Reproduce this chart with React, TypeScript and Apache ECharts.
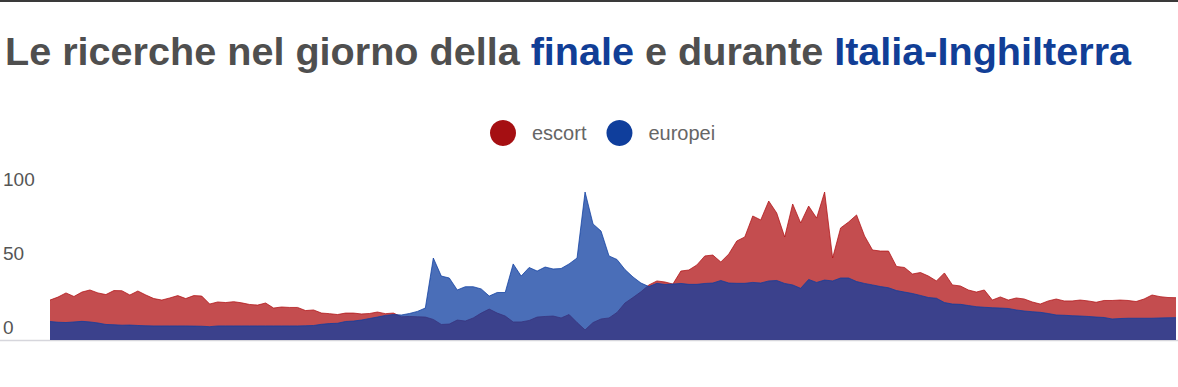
import React, { useEffect, useRef } from "react";
import * as echarts from "echarts";

const titleParts = ["Le ricerche nel giorno della ", "finale", " e durante ", "Italia-Inghilterra"];
const seriesNames = ["escort", "europei"];
const yTicks = [0, 50, 100];

const escort = [
  27.0, 29, 31.8, 29.4, 32.4, 33.8, 31.8, 30.7, 33.4, 33.3,
  30.4, 33.1, 30.4, 28, 27, 28.4, 30, 28, 30, 29.7,
  24.3, 25.7, 25.3, 25.9, 25.1, 24, 23.6, 25, 21.6, 22.3,
  22, 22, 19.9, 20.3, 18.2, 17.8, 17.2, 18.2, 18.2, 17.6,
  17.9, 18.9, 17.8, 18.2, 15.7, 15.9, 15.7, 15.5, 13.9, 10.5,
  10.8, 13.5, 12.8, 14.9, 18.2, 20.9, 18.2, 16.2, 12.2, 12.2,
  13.2, 15.5, 15.9, 16.2, 14.9, 17.2, 11.8, 6.8, 11.8, 14.2,
  14.9, 18.6, 25, 28.7, 32.6, 37.2, 39.9, 39.2, 37.8, 46.6,
  47.3, 50.7, 56.8, 57.4, 52.7, 58.1, 66.9, 69.6, 83.8, 81.1,
  93.9, 85.8, 69.6, 91.9, 79.1, 90.5, 82.4, 100, 55.4, 75.7,
  79.7, 84.5, 70.3, 60.8, 60.1, 60.1, 49.7, 49, 44.6, 45.6,
  43.2, 39.9, 45.3, 37.2, 36.5, 33.8, 32.4, 33.8, 27, 29.1,
  27, 28.4, 27.7, 25.7, 24.3, 26.4, 27.7, 26.4, 26.4, 27,
  26.4, 25.5, 26.7, 26.7, 27, 26.7, 26, 27.7, 30.4, 29.3,
  28.7, 28.6,
];

const europei = [
  12.5, 12, 11.8, 12.2, 12.6, 12.2, 11.5, 10.5, 10.3, 10,
  10.1, 9.8, 9.6, 9.5, 9.5, 9.5, 9.5, 9.5, 9.4, 9.3,
  9.0, 9.5, 9.5, 9.5, 9.5, 9.5, 9.5, 9.5, 9.5, 9.5,
  9.5, 9.5, 9.6, 9.8, 10.6, 11.1, 11.3, 12.5, 12.8, 13.5,
  14.5, 15.5, 16.6, 17.2, 16.9, 17.9, 19.3, 21.6, 55.4, 43.2,
  41.9, 33.8, 36, 36, 34.5, 29.7, 32.1, 32.1, 51.4, 43.2,
  49, 46.6, 49.3, 48, 48.3, 51.4, 55.4, 100, 78.4, 73.6,
  56.8, 54.4, 47.6, 42.6, 38.5, 36.1, 38.3, 37.5, 37.8, 38.2,
  37.6, 37.6, 38.2, 38.5, 40.2, 38.5, 38.3, 38.3, 38.9, 38.5,
  39.9, 40.2, 38.2, 37.2, 34.9, 40.9, 38.9, 40.5, 39.9, 41.9,
  41.9, 39.5, 38.2, 37.2, 36.1, 35.3, 33.4, 32.4, 31.4, 30.1,
  28.7, 28.2, 25.3, 24.3, 24.1, 23.3, 22.5, 22.1, 21.8, 21.6,
  21.3, 20.3, 19.6, 19.1, 18.7, 17.9, 16.9, 16.7, 16.4, 16.2,
  15.9, 15.5, 15.2, 14.2, 14.5, 14.7, 14.7, 14.7, 14.7, 14.9,
  15, 15.1,
];

const categories = escort.map((_, i) => String(i));

const FONT = "'Liberation Sans', Arial, Helvetica, sans-serif";

export default function App() {
  const ref = useRef<HTMLDivElement>(null);

  useEffect(() => {
    if (!ref.current) return;
    const chart = echarts.init(ref.current, null, { renderer: "svg" });
    chart.setOption({
      animation: false,
      backgroundColor: "#ffffff",
      title: {
        text:
          "{g|" + titleParts[0] + "}{b|" + titleParts[1] + "}{g|" + titleParts[2] + "}{b|" + titleParts[3] + "}",
        left: 5,
        top: 31,
        padding: 0,
        textStyle: {
          rich: {
            g: { fontFamily: FONT, fontSize: 39.6, fontWeight: "bold", color: "#4f4f4f" },
            b: { fontFamily: FONT, fontSize: 39.6, fontWeight: "bold", color: "#113e96" },
          },
        },
      },
      legend: {
        data: [
          { name: seriesNames[0], itemStyle: { color: "#a50f12", opacity: 1 } },
          { name: seriesNames[1], itemStyle: { color: "#0f3e9c", opacity: 1 } },
        ],
        icon: "circle",
        left: 490,
        top: 120,
        itemWidth: 26,
        itemHeight: 26,
        itemGap: 20,
        padding: 0,
        textStyle: {
          fontFamily: FONT,
          fontSize: 20,
          color: "#666666",
          padding: [0, 0, 0, 11],
        },
      },
      grid: { left: 48, right: 2, top: 192, bottom: 47, containLabel: false },
      xAxis: {
        type: "category",
        data: categories,
        boundaryGap: false,
        axisLine: { show: false },
        axisTick: { show: false },
        axisLabel: { show: false },
        splitLine: { show: false },
      },
      yAxis: {
        type: "value",
        min: yTicks[0],
        max: yTicks[2],
        interval: 50,
        axisLine: { show: false },
        axisTick: { show: false },
        splitLine: { show: false },
        axisLabel: {
          align: "left",
          margin: 47,
          verticalAlign: "bottom",
          padding: [0, 0, 3, 0],
          fontFamily: FONT,
          fontSize: 19,
          color: "#555555",
        },
      },
      graphic: [
        { type: "rect", left: 0, top: 0, shape: { width: 1178, height: 2 }, style: { fill: "#3a3a3a" }, z: 10 },
        { type: "line", shape: { x1: 0, y1: 340.5, x2: 1178, y2: 340.5 }, style: { stroke: "#d6d6dc", lineWidth: 1.5 }, z: 0 },
      ],
      series: [
        {
          name: seriesNames[0],
          type: "line",
          data: escort,
          symbol: "none",
          smooth: false,
          lineStyle: { color: "rgb(176,18,20)", width: 1, opacity: 0.75 },
          itemStyle: { color: "rgb(176,18,20)" },
          areaStyle: { color: "rgb(176,18,20)", opacity: 0.75 },
          z: 2,
        },
        {
          name: seriesNames[1],
          type: "line",
          data: europei,
          symbol: "none",
          smooth: false,
          lineStyle: { color: "rgb(13,62,160)", width: 1, opacity: 0.75 },
          itemStyle: { color: "rgb(13,62,160)" },
          areaStyle: { color: "rgb(13,62,160)", opacity: 0.75 },
          z: 3,
        },
      ],
    });
    return () => chart.dispose();
  }, []);

  return (
    <div
      ref={ref}
      style={{ position: "absolute", left: 0, top: 0, width: 1178, height: 387 }}
    />
  );
}
